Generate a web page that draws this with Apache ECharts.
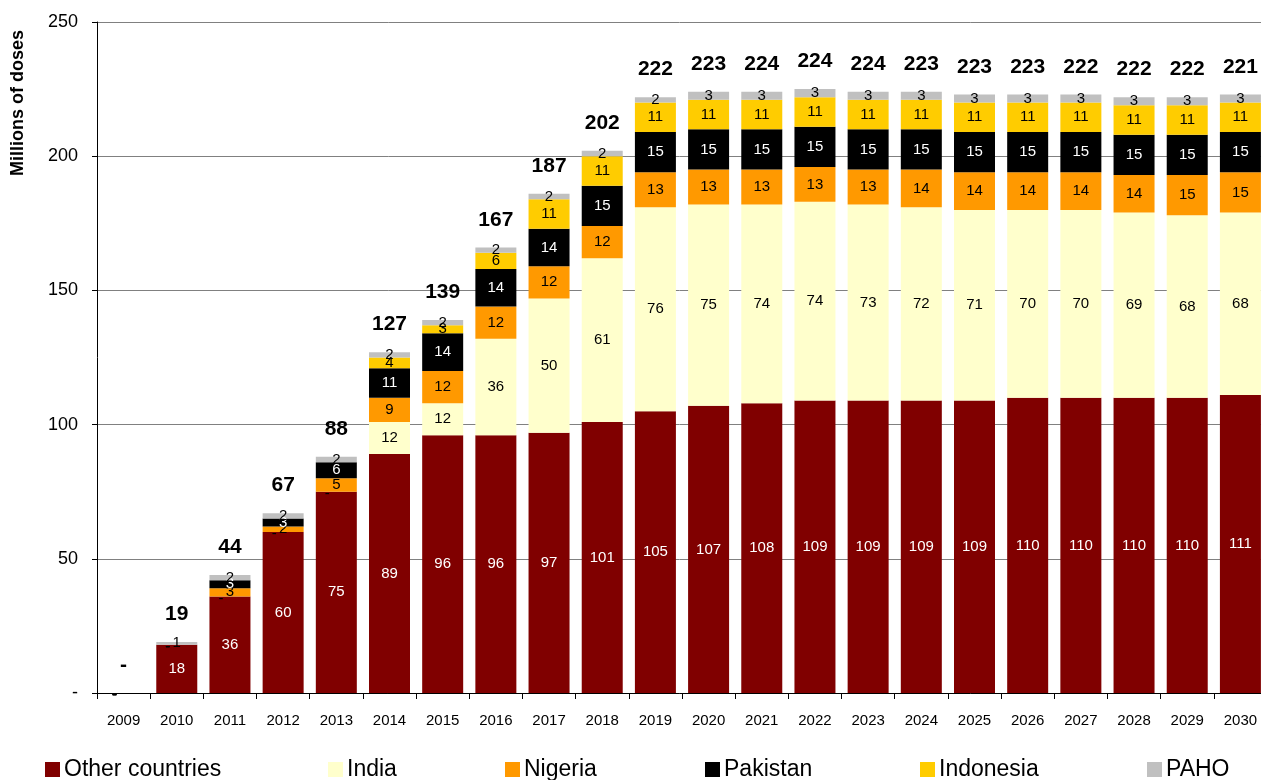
<!DOCTYPE html>
<html>
<head>
<meta charset="utf-8">
<script src="https://cdn.jsdelivr.net/npm/echarts@6/dist/echarts.min.js"></script>
<style>
  html, body { margin: 0; padding: 0; background: #fff; }
  #chart { width: 1261px; height: 780px; }
</style>
</head>
<body>
<div id="chart"></div>
<script>
const years = ['2009','2010','2011','2012','2013','2014','2015','2016','2017','2018','2019',
  '2020','2021','2022','2023','2024','2025','2026','2027','2028','2029','2030'];
const otherCountries = [0,18,36,60,75,89,96,96,97,101,105,107,108,109,109,109,109,110,110,110,110,111];
const india          = [0,0,0,0,0,12,12,36,50,61,76,75,74,74,73,72,71,70,70,69,68,68];
const nigeria        = [0,0,3,2,5,9,12,12,12,12,13,13,13,13,13,14,14,14,14,14,15,15];
const pakistan       = [0,0,3,3,6,11,14,14,14,15,15,15,15,15,15,15,15,15,15,15,15,15];
const indonesia      = [0,0,0,0,0,4,3,6,11,11,11,11,11,11,11,11,11,11,11,11,11,11];
const paho           = [0,1,2,2,2,2,2,2,2,2,2,3,3,3,3,3,3,3,3,3,3,3];
const totals         = [0,19,44,67,88,127,139,167,187,202,222,223,224,224,224,223,223,223,222,222,222,221];

const seriesDefs = [
  { name: 'Other countries', data: otherCountries, color: '#800000', text: '#fff' },
  { name: 'India', data: india, color: '#FFFFCC', text: '#000' },
  { name: 'Nigeria', data: nigeria, color: '#FF9900', text: '#000' },
  { name: 'Pakistan', data: pakistan, color: '#000000', text: '#fff' },
  { name: 'Indonesia', data: indonesia, color: '#FFCC00', text: '#000' },
  { name: 'PAHO', data: paho, color: '#C0C0C0', text: '#000' }
];
const legendLefts = [45, 328, 505, 705, 920, 1147];

const FONT = 'Arial, "Liberation Sans", sans-serif';

const chart = echarts.init(document.getElementById('chart'));

const series = seriesDefs.map(s => ({
  name: s.name,
  type: 'bar',
  stack: 'doses',
  barWidth: 41,
  itemStyle: { color: s.color },
  label: {
    show: true,
    position: 'inside',
    color: s.text,
    fontFamily: FONT,
    fontSize: 15,
    formatter: p => (p.value === 0 ? '-' : String(p.value))
  },
  data: s.data.map(v => v === 0
    ? { value: v, label: { color: '#000', offset: [-9, 2] } }
    : v)
}));

series.push({
  name: 'Total',
  type: 'bar',
  stack: 'doses',
  barWidth: 41,
  itemStyle: { color: 'transparent' },
  label: {
    show: true,
    position: 'top',
    distance: 17,
    color: '#000',
    fontFamily: FONT,
    fontSize: 21,
    fontWeight: 'bold',
    formatter: p => (totals[p.dataIndex] === 0 ? '-' : String(totals[p.dataIndex]))
  },
  data: years.map(() => 0)
});

const legends = seriesDefs.map((s, i) => ({
  data: [s.name],
  left: legendLefts[i],
  top: 758,
  padding: 0,
  itemWidth: 15,
  itemHeight: 15,
  itemGap: 4,
  icon: 'rect',
  selectedMode: false,
  textStyle: { fontFamily: FONT, fontSize: 23, color: '#000', padding: [0, 0, 0, -1] }
}));

chart.setOption({
  animation: false,
  backgroundColor: '#fff',
  grid: { left: 97, width: 1170, top: 22, bottom: 87, outerBoundsMode: 'none' },
  legend: legends,
  graphic: [{
    type: 'text',
    x: 18,
    y: 103,
    rotation: Math.PI / 2,
    style: {
      text: 'Millions of doses',
      font: 'bold 18px ' + FONT,
      fill: '#000',
      align: 'center',
      verticalAlign: 'middle'
    }
  }],
  xAxis: {
    type: 'category',
    data: years,
    axisLine: { lineStyle: { color: '#000', width: 1 } },
    axisTick: { show: true, length: 6, lineStyle: { color: '#000' } },
    axisLabel: { color: '#000', fontFamily: FONT, fontSize: 15, margin: 20 }
  },
  yAxis: {
    type: 'value',
    min: 0,
    max: 250,
    interval: 50,
    axisLine: { show: true, lineStyle: { color: '#000', width: 1 } },
    axisTick: { show: true, inside: false, length: 5, lineStyle: { color: '#000' } },
    axisLabel: {
      color: '#000', fontFamily: FONT, fontSize: 18, margin: 19,
      formatter: v => (v === 0 ? '-' : String(v))
    },
    splitLine: { show: true, lineStyle: { color: '#808080', width: 1 } }
  },
  series: series
});
</script>
</body>
</html>
